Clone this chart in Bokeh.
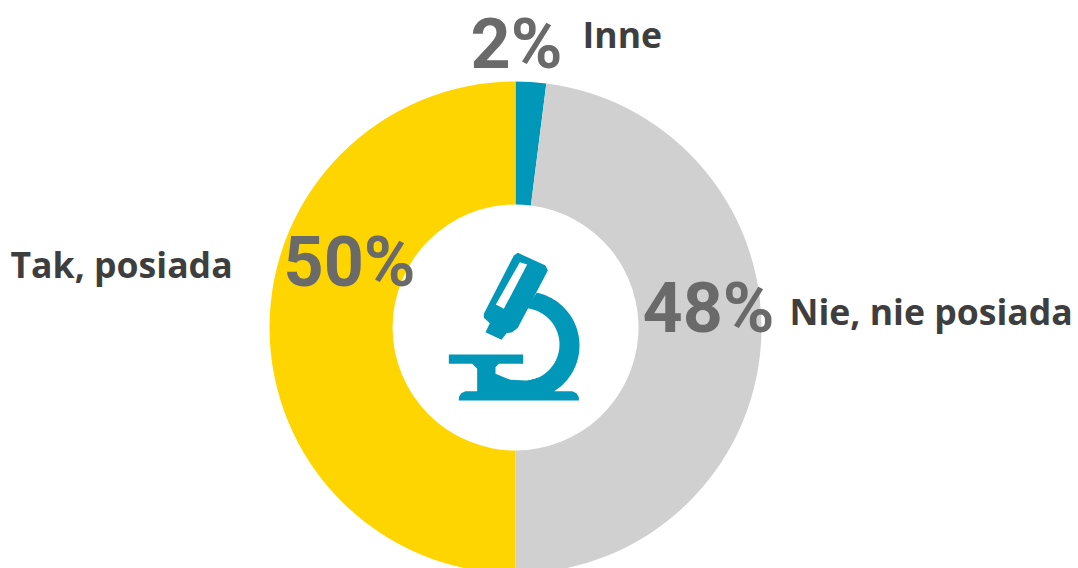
import numpy as np
from bokeh.plotting import figure
from bokeh.models import Range1d
from bokeh.core.properties import value
from bokeh.embed import file_html
from bokeh.resources import INLINE

categories = ["Inne", "Nie, nie posiada", "Tak, posiada"]
shares = [2, 48, 50]
colors = ["#0097b8", "#d0d0d0", "#ffd500"]
pct_labels = ["2%", "48%", "50%"]

W, H = 1078, 568
def Y(py):
    return 568 - py

p = figure(width=W, height=H, output_backend="svg", toolbar_location=None,
           x_range=Range1d(0, 1078), y_range=Range1d(0, 568),
           min_border=0, outline_line_color=None)
p.axis.visible = False
p.grid.visible = False
p.background_fill_color = "white"

cx, cy, R, r = 515, Y(327), 246, 123
fr = np.cumsum([0] + shares) / sum(shares)
for i in range(3):
    a0 = np.pi / 2 - 2 * np.pi * fr[i + 1]
    a1 = np.pi / 2 - 2 * np.pi * fr[i]
    p.annular_wedge(x=[cx], y=[cy], inner_radius=r, outer_radius=R, start_angle=[a0], end_angle=[a1],
                    color=colors[i], line_color=None, inner_radius_units="data", outer_radius_units="data")

ic = "#0097b8"
def ipt(pts):
    a = np.array(pts, float)
    return list(430 + a[:, 0] / 3), list(Y(240 + a[:, 1] / 3))
def arc(c, rad, d0, d1, n=50):
    t = np.radians(np.linspace(d0, d1, n))
    return [(c[0] + rad * np.cos(v), c[1] + rad * np.sin(v)) for v in t]
ring = arc((285, 315), 162, -78, 58) + arc((278, 312), 109, 110, -85)
shapes = [
    [(262, 37), (345, 75), (352, 90), (262, 262), (245, 275), (228, 278), (213, 298), (165, 275), (178, 248), (160, 232), (160, 220), (250, 45)],
    ring,
    [(55, 342), (278, 342), (278, 370), (205, 370), (195, 380), (195, 400), (240, 418), (290, 421), (340, 408), (372, 452),
     (425, 452), (438, 458), (445, 470), (445, 480), (85, 480), (85, 470), (92, 458), (105, 452), (140, 452), (140, 385), (125, 370), (55, 370)],
]
for s in shapes:
    x, y = ipt(s)
    p.patch(x, y, color=ic, line_color=None)
x, y = ipt([(268, 65), (290, 72), (220, 205), (196, 192)])
p.patch(x, y, color="white", line_color=None)

PCT_SIZE, CAT_SIZE = 70, 35.6
pct_pos = [(470, 67), (642, 331), (283, 285)]
for t, (x, y) in zip(pct_labels, pct_pos):
    p.text([x], [Y(y)], text=[t], text_font=value("Roboto"), text_font_style="bold", text_font_size=f"{PCT_SIZE}px",
           text_color="#6a6a6a", text_align="left", text_baseline="bottom", y_offset=[PCT_SIZE * 0.25])
cat_pos = [(582, 49), (789, 326), (10, 279)]
for t, (x, y) in zip(categories, cat_pos):
    p.text([x], [Y(y)], text=[t], text_font=value("Open Sans"), text_font_style="bold", text_font_size=f"{CAT_SIZE}px",
           text_color="#3e3e3e", text_align="left", text_baseline="bottom", y_offset=[CAT_SIZE * 0.25])

open("out.html", "w").write(file_html(p, INLINE))
